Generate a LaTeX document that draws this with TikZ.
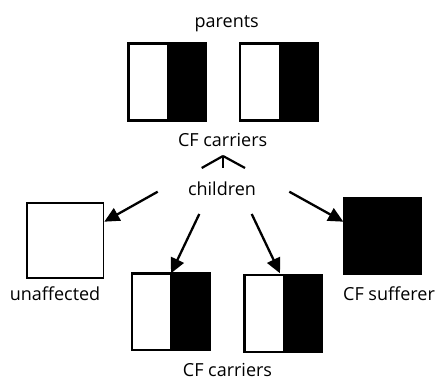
\documentclass[tikz,border=0pt]{standalone}
\usepackage{fontspec}
\setmainfont{Open Sans}
\usetikzlibrary{arrows.meta}
\tikzset{
  lbl/.style={font=\fontsize{18}{21}\selectfont, anchor=base, inner sep=0pt},
  box/.style={draw=black, line width=1.6pt, inner sep=0pt, minimum width=#1, minimum height=76pt},
  edge/.style={line width=1.6pt},
  arr/.style={line width=2.3pt, -{Triangle[length=15pt,width=14pt]}},
  apex/.style={line width=2.2pt}
}
\begin{document}
\begin{tikzpicture}[x=1pt,y=-1pt]
\useasboundingbox (0,0) rectangle (438,379);
% parents
\node[lbl] (parents) at (226.7,27.3) {parents};
\node[box=76.7pt] (p1) at (167.3,82) {};
\node[box=76.7pt] (p2) at (279,82) {};
\fill (p1.north) ++(-0.5,0) rectangle (p1.south east);
\draw[edge] (p1.north west) rectangle (p1.south east);
\fill (p2.north) ++(-0.5,0) rectangle (p2.south east);
\draw[edge] (p2.north west) rectangle (p2.south east);
\node[lbl] (cftop) at (222.7,146.7) {CF carriers};
% apex
\coordinate (tip) at (223,156);
\coordinate (a1) at (201.7,168);
\coordinate (a2) at (223,168);
\coordinate (a3) at (245,168);
\draw[apex] (a1) -- (tip);
\draw[apex] (a2) -- (tip);
\draw[apex] (a3) -- (tip);
% children
\node[lbl] (children) at (222,195.7) {children};
% unaffected
\node[box=76.6pt, minimum height=75pt] (u) at (65,240.2) {};
\node[lbl] (ulbl) at (55,300.7) {unaffected};
% sufferer
\node[box=77.4pt, fill=black] (s) at (382,236) {};
\node[lbl] (slbl) at (389,300.7) {CF sufferer};
% children carriers
\node[box=76.7pt] (c1) at (170.6,311.7) {};
\node[box=76pt] (c2) at (283,313.5) {};
\fill (c1.north) ++(-0.6,0) rectangle (c1.south east);
\draw[edge] (c1.north west) rectangle (c1.south east);
\fill (c2.north) ++(-0.3,0) rectangle (c2.south east);
\draw[edge] (c2.north west) rectangle (c2.south east);
\node[lbl] (cfbot) at (227.5,376) {CF carriers};
% arrows
\coordinate (s1) at (157.7,191.7);
\coordinate (e1) at (104.3,221.7);
\coordinate (s2) at (289.3,191.7);
\coordinate (e2) at (343.3,221.7);
\coordinate (s3) at (199.3,214);
\coordinate (e3) at (171,273.3);
\coordinate (s4) at (251.7,214);
\coordinate (e4) at (280,273.3);
\draw[arr] (s1) -- (e1);
\draw[arr] (s2) -- (e2);
\draw[arr] (s3) -- (e3);
\draw[arr] (s4) -- (e4);
\end{tikzpicture}
\end{document}
